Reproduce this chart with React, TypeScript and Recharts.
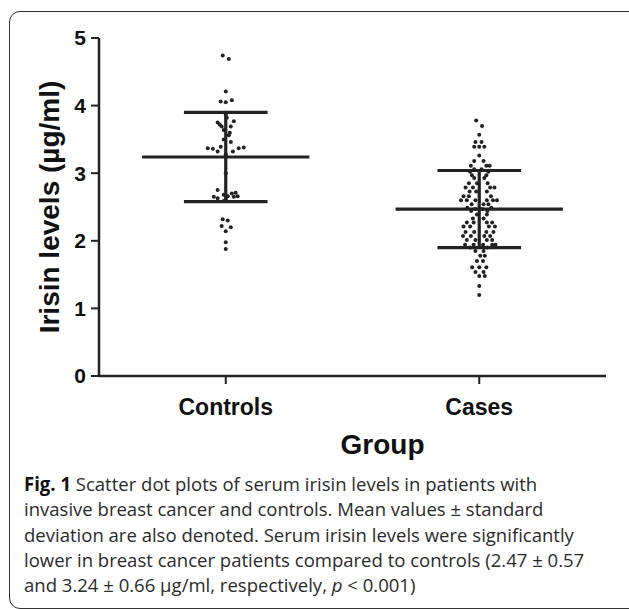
import React from 'react';
import { ScatterChart, Scatter, XAxis, YAxis, ReferenceLine, Label } from 'recharts';

// group names and their centres on the x axis (domain 0..2)
const GROUPS = ['Controls', 'Cases'];
const GROUP_POS = [0.5, 1.5];
const Y_TICKS = [0, 1, 2, 3, 4, 5];

// [jitter, irisin µg/ml]
const CONTROLS: [number, number][] = [
  [-0.012, 4.74], [0.012, 4.69], [0, 4.21], [-0.02, 4.06], [0, 4.05], [0.024, 4.08],
  [0, 3.86], [0.004, 3.82], [-0.032, 3.75], [-0.024, 3.72], [0.032, 3.77], [-0.016, 3.69],
  [0.02, 3.69], [-0.008, 3.64], [0.016, 3.6], [0.012, 3.56], [-0.008, 3.5], [0.02, 3.46],
  [-0.02, 3.39], [-0.071, 3.37], [-0.051, 3.36], [-0.032, 3.32], [0, 3.28], [0.028, 3.32],
  [0.051, 3.37], [0.071, 3.38], [0, 3.0], [-0.032, 2.75], [-0.047, 2.65], [-0.032, 2.63],
  [-0.008, 2.68], [0.008, 2.66], [0.024, 2.7], [0.039, 2.71], [0.047, 2.66], [0.032, 2.65],
  [-0.008, 2.59], [0, 2.62], [-0.012, 2.32], [0.008, 2.3], [-0.016, 2.22], [0.02, 2.2],
  [0, 2.14], [0, 1.98], [0, 1.88],
];

const CASES: [number, number][] = [
  [-0.012, 3.78], [0.011, 3.7], [0, 3.57], [-0.015, 3.46], [0.009, 3.46], [-0.02, 3.39],
  [0, 3.39], [0.02, 3.39], [0, 3.26], [-0.02, 3.18], [0.017, 3.18], [-0.033, 3.11],
  [0.028, 3.11], [0.041, 3.11], [-0.02, 3.06], [0.009, 3.06], [-0.036, 3.02], [0.036, 3.02],
  [-0.029, 2.97], [0.028, 2.97], [-0.02, 2.93], [0.02, 2.93], [-0.041, 2.85], [-0.009, 2.85],
  [0.033, 2.85], [-0.054, 2.79], [-0.025, 2.79], [0.043, 2.79], [0.06, 2.79], [-0.038, 2.73],
  [-0.012, 2.73], [0.03, 2.73], [-0.062, 2.66], [-0.041, 2.66], [0.046, 2.66], [-0.072, 2.6],
  [-0.049, 2.6], [-0.015, 2.6], [0.03, 2.6], [0.054, 2.6], [0.07, 2.6], [-0.03, 2.54],
  [0.017, 2.54], [0.036, 2.54], [-0.047, 2.49], [0.047, 2.49], [-0.016, 2.47], [0.012, 2.47],
  [-0.032, 2.44], [0.032, 2.44], [-0.009, 2.39], [0.03, 2.39], [-0.025, 2.33], [0.017, 2.33],
  [-0.049, 2.27], [-0.022, 2.27], [0.03, 2.27], [0.051, 2.27], [-0.062, 2.21], [-0.036, 2.21],
  [0.038, 2.21], [0.062, 2.21], [-0.054, 2.13], [-0.02, 2.13], [0.028, 2.13], [0.056, 2.13],
  [-0.064, 2.07], [-0.033, 2.07], [0.02, 2.07], [0.043, 2.07], [-0.049, 2.01], [-0.015, 2.01],
  [0.03, 2.01], [0.051, 2.01], [-0.056, 1.94], [-0.022, 1.94], [0.015, 1.94], [0.051, 1.94],
  [0.064, 1.94], [-0.036, 1.9], [0.032, 1.9], [-0.015, 1.85], [0.017, 1.85], [0.004, 1.78],
  [0.022, 1.78], [-0.009, 1.7], [0.015, 1.7], [-0.028, 1.61], [0, 1.61], [0.028, 1.61],
  [-0.015, 1.54], [0.017, 1.54], [0, 1.48], [0.022, 1.48], [0, 1.33], [0, 1.2],
];

// mean and SD per group (from the caption)
const MEANS = [3.24, 2.47];
const SDS = [0.66, 0.57];

const MEAN_HALF = 0.33;
const SD_HALF = 0.165;
const INK = '#222';

const dot = (p: any) => <circle cx={p.cx} cy={p.cy} r={2} fill={INK} />;

const toPoints = (rows: [number, number][], gi: number) =>
  rows.map(([j, v]) => ({ x: GROUP_POS[gi] + j, y: v }));

export default function App() {
  const lineProps = { stroke: INK, strokeWidth: 3.2, ifOverflow: 'visible' as const };
  return (
    <div style={{ position: 'absolute', left: 0, top: 0, width: 629, height: 609, background: '#fff', overflow: 'hidden', fontFamily: '"Liberation Sans", Arial, sans-serif' }}>
      <div style={{ position: 'absolute', left: 9, top: 11, width: 640, height: 596, border: '1.5px solid #333', borderRadius: 11 }} />
      <div style={{ position: 'absolute', left: 0, top: 0 }}>
        <ScatterChart width={629} height={470} margin={{ top: 38, right: 23, bottom: 34, left: 0 }}>
          <XAxis
            type="number"
            dataKey="x"
            domain={[0, 2]}
            ticks={GROUP_POS}
            tickFormatter={(v: number) => GROUPS[GROUP_POS.indexOf(v)] ?? ''}
            height={60}
            tickSize={8}
            tickMargin={15}
            axisLine={{ stroke: INK, strokeWidth: 2.5 }}
            tickLine={{ stroke: INK, strokeWidth: 2 }}
            tick={{ fill: '#111', fontSize: 23, fontWeight: 'bold' }}
          >
            <Label value="Group" position="bottom" offset={-2} dx={30} style={{ fill: '#111', fontSize: 28, fontWeight: 'bold' }} />
          </XAxis>
          <YAxis
            type="number"
            dataKey="y"
            domain={[0, 5]}
            ticks={Y_TICKS}
            width={99}
            tickSize={8}
            tickMargin={5}
            axisLine={{ stroke: INK, strokeWidth: 2.5 }}
            tickLine={{ stroke: INK, strokeWidth: 2 }}
            tick={{ fill: '#111', fontSize: 21, fontWeight: 'bold' }}
          >
            <Label value="Irisin levels (µg/ml)" angle={-90} position="insideLeft" offset={49} style={{ textAnchor: 'middle', fill: '#111', fontSize: 28, fontWeight: 'bold' }} />
          </YAxis>
          <Scatter data={toPoints(CONTROLS, 0)} shape={dot} isAnimationActive={false} />
          <Scatter data={toPoints(CASES, 1)} shape={dot} isAnimationActive={false} />
          {GROUP_POS.map((c, i) => (
            <React.Fragment key={GROUPS[i]}>
              <ReferenceLine segment={[{ x: c - MEAN_HALF, y: MEANS[i] }, { x: c + MEAN_HALF, y: MEANS[i] }]} {...lineProps} />
              <ReferenceLine segment={[{ x: c - SD_HALF, y: MEANS[i] + SDS[i] }, { x: c + SD_HALF, y: MEANS[i] + SDS[i] }]} {...lineProps} />
              <ReferenceLine segment={[{ x: c - SD_HALF, y: MEANS[i] - SDS[i] }, { x: c + SD_HALF, y: MEANS[i] - SDS[i] }]} {...lineProps} />
              <ReferenceLine segment={[{ x: c, y: MEANS[i] - SDS[i] }, { x: c, y: MEANS[i] + SDS[i] }]} {...lineProps} />
            </React.Fragment>
          ))}
        </ScatterChart>
      </div>
      <div style={{ position: 'absolute', left: 24, top: 472, fontFamily: '"Open Sans", sans-serif', fontSize: 19, lineHeight: '25.3px', color: '#2a2a2a', whiteSpace: 'nowrap', transform: 'scaleX(0.975)', transformOrigin: 'left top' }}>
        <div><b style={{ color: '#111' }}>Fig. 1</b> Scatter dot plots of serum irisin levels in patients with</div>
        <div>invasive breast cancer and controls. Mean values ± standard</div>
        <div>deviation are also denoted. Serum irisin levels were significantly</div>
        <div>lower in breast cancer patients compared to controls (2.47 ± 0.57</div>
        <div>and 3.24 ± 0.66 µg/ml, respectively, <i>p</i> &lt; 0.001)</div>
      </div>
    </div>
  );
}
